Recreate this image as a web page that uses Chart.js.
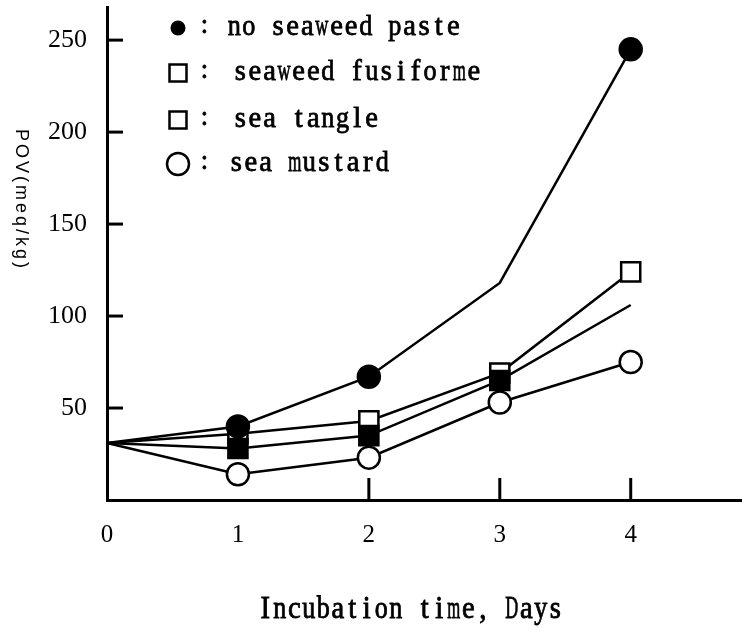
<!DOCTYPE html>
<html>
<head>
<meta charset="utf-8">
<script src="https://cdn.jsdelivr.net/npm/chart.js@4.4.1/dist/chart.umd.min.js"></script>
<style>
  body { margin: 0; background: #fff; }
  canvas { display: block; }
</style>
</head>
<body>
<canvas id="pov" width="742" height="628"></canvas>
<script>
// days of incubation
const days = [0, 1, 2, 3, 4];
const yTicks = [50, 100, 150, 200, 250];
const xTickMarks = [2, 3, 4];

// POV (meq/kg)
const noSeaweed = [31, 40, 67, 118, 245];
const fusiforme = [31, 36, 43, 69, 124];
const seaTangle = [31, 28, 35, 65, 106];
const seaMustard = [31, 14, 23, 53, 75];

const legendLabels = ['no seaweed paste', 'seaweed fusiforme', 'sea tangle', 'sea mustard'];

const toPoints = vals => days.map((d, i) => ({ x: d, y: vals[i] }));

// serif text in fixed cells, like the half-width mincho of the scan
function cellText(ctx, text, x, y, cell, size, sy) {
    ctx.save();
    ctx.font = size + 'px "Liberation Serif", serif';
    ctx.fillStyle = '#000';
    ctx.strokeStyle = '#000';
    ctx.lineWidth = 0.7;
    ctx.textBaseline = 'alphabetic';
    ctx.textAlign = 'center';
    for (let i = 0; i < text.length; i++) {
        const ch = text[i];
        if (ch === ' ') continue;
        const w = ctx.measureText(ch).width;
        const sx = Math.min(1.1, (cell - 1.5) / w);
        ctx.save();
        ctx.translate(x + cell * i + cell / 2, y);
        ctx.scale(sx, sy);
        ctx.fillText(ch, 0, 0);
        ctx.strokeText(ch, 0, 0);
        ctx.restore();
    }
    ctx.restore();
}

const decorations = {
    id: 'decorations',
    afterDraw(chart) {
        const ctx = chart.ctx;
        const xs = chart.scales.x, ys = chart.scales.y;
        const area = chart.chartArea;

        // inward tick marks
        ctx.save();
        ctx.strokeStyle = '#000';
        ctx.lineWidth = 3;
        yTicks.forEach(v => {
            const py = ys.getPixelForValue(v);
            ctx.beginPath();
            ctx.moveTo(area.left, py);
            ctx.lineTo(area.left + 16, py);
            ctx.stroke();
        });
        xTickMarks.forEach(v => {
            const px = xs.getPixelForValue(v);
            ctx.beginPath();
            ctx.moveTo(px, area.bottom);
            ctx.lineTo(px, area.bottom - 22);
            ctx.stroke();
        });
        ctx.restore();

        // legend
        const lx = 178;
        const rows = [28, 73, 120, 164];
        ctx.save();
        ctx.lineWidth = 2.5;
        ctx.strokeStyle = '#000';
        ctx.fillStyle = '#000';
        ctx.beginPath();
        ctx.arc(lx, rows[0], 7.5, 0, Math.PI * 2);
        ctx.fill();
        ctx.strokeRect(lx - 8.5, rows[1] - 8.5, 17, 17);
        ctx.strokeRect(lx - 8.5, rows[2] - 8.5, 17, 17);
        ctx.beginPath();
        ctx.arc(lx, rows[3], 11, 0, Math.PI * 2);
        ctx.stroke();
        ctx.restore();

        const textX = [227, 233, 233, 229];
        legendLabels.forEach((lbl, i) => {
            cellText(ctx, ':', 197, rows[i] + 5, 14.6, 24, 1.1);
            cellText(ctx, lbl, textX[i], rows[i] + 7, 14.6, 26, 1.15);
        });

        // x title
        cellText(ctx, 'Incubation time, Days', 258, 618, 14.5, 26, 1.18);

        // y title, rotated clockwise
        ctx.save();
        ctx.translate(21, 200);
        ctx.rotate(Math.PI / 2);
        ctx.font = '18px "Liberation Sans", sans-serif';
        ctx.letterSpacing = '3px';
        ctx.fillStyle = '#000';
        ctx.textAlign = 'center';
        ctx.textBaseline = 'middle';
        ctx.fillText('POV(meq/kg)', 0, 0);
        ctx.restore();
    }
};

const base = {
    borderColor: '#000',
    borderWidth: 2.5,
    tension: 0,
    pointBorderColor: '#000',
    pointBorderWidth: 2.5,
    clip: false
};

const ctx = document.getElementById('pov').getContext('2d');
new Chart(ctx, {
    type: 'line',
    data: {
        datasets: [
            Object.assign({}, base, {
                label: legendLabels[0],
                data: toPoints(noSeaweed),
                pointStyle: 'circle',
                pointRadius: [0, 11, 11, 0, 11],
                pointBackgroundColor: '#000',
                order: 3
            }),
            Object.assign({}, base, {
                label: legendLabels[1],
                data: toPoints(fusiforme),
                pointStyle: 'rect',
                pointRadius: [0, 13.5, 13.5, 13.5, 13.5],
                pointBackgroundColor: '#fff',
                order: 4
            }),
            Object.assign({}, base, {
                label: legendLabels[2],
                data: toPoints(seaTangle),
                pointStyle: 'rect',
                pointRadius: [0, 13.5, 13.5, 13.5, 0],
                pointBackgroundColor: '#000',
                order: 1
            }),
            Object.assign({}, base, {
                label: legendLabels[3],
                data: toPoints(seaMustard),
                pointStyle: 'circle',
                pointRadius: [0, 11, 11, 11, 11],
                pointBackgroundColor: '#fff',
                order: 2
            })
        ]
    },
    options: {
        responsive: false,
        animation: false,
        layout: { autoPadding: false, padding: { top: 7, right: 0, left: 0, bottom: 0 } },
        scales: {
            x: {
                type: 'linear',
                min: 0,
                max: 4.85,
                afterBuildTicks: s => { s.ticks = days.map(v => ({ value: v })); },
                afterFit: s => { s.height = 128; s.paddingLeft = 0; s.paddingRight = 0; },
                grid: { display: false, drawTicks: false },
                border: { display: true, color: '#000', width: 3 },
                ticks: {
                    color: '#000',
                    padding: 20,
                    maxRotation: 0,
                    font: { family: '"Liberation Serif", serif', size: 25 }
                }
            },
            y: {
                min: 0,
                max: 268,
                afterBuildTicks: s => { s.ticks = yTicks.map(v => ({ value: v })); },
                afterFit: s => { s.width = 107; s.paddingTop = 0; s.paddingBottom = 0; },
                grid: { display: false, drawTicks: false },
                border: { display: true, color: '#000', width: 3 },
                ticks: {
                    color: '#000',
                    padding: 20,
                    font: { family: '"Liberation Serif", serif', size: 26 }
                }
            }
        },
        plugins: {
            legend: { display: false },
            tooltip: { enabled: false }
        }
    },
    plugins: [decorations]
});
</script>
</body>
</html>
